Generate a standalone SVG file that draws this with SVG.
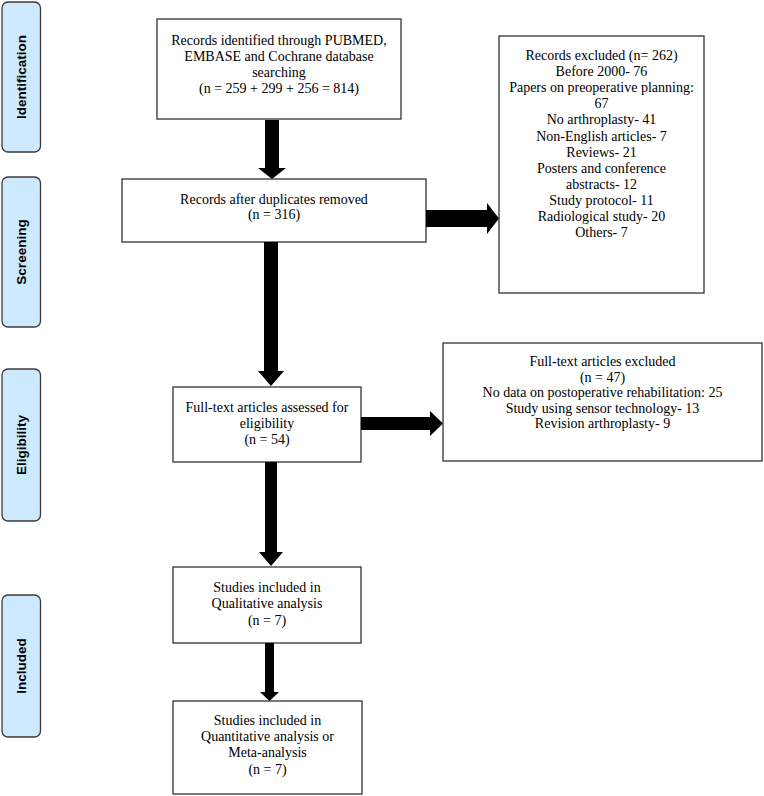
<svg xmlns="http://www.w3.org/2000/svg" width="764" height="796" viewBox="0 0 764 796">
<style>
.lab rect{fill:#cde9fd;stroke:#3a3a3a;stroke-width:1.3}
.lab text{font-family:"Liberation Sans",Arial,sans-serif;font-weight:bold;font-size:13.5px;fill:#000;text-anchor:middle}
.box rect{fill:#fff;stroke:#333;stroke-width:1.3}
.box text{font-family:"Liberation Serif","Times New Roman",serif;font-size:14px;fill:#000;text-anchor:middle}
#connectors polygon{fill:#000}
</style>
<rect width="764" height="796" fill="#fff"/>
<g id="lab-identification" class="lab"><rect x="2" y="2" width="38.5" height="150" rx="6"/><text transform="translate(26,77) rotate(-90)">Identification</text></g>
<g id="lab-screening" class="lab"><rect x="2" y="177" width="38.5" height="150" rx="6"/><text transform="translate(26,252) rotate(-90)">Screening</text></g>
<g id="lab-eligibility" class="lab"><rect x="2" y="369" width="38.5" height="152" rx="6"/><text transform="translate(26,445) rotate(-90)">Eligibility</text></g>
<g id="lab-included" class="lab"><rect x="2" y="595" width="38.5" height="142" rx="6"/><text transform="translate(26,666) rotate(-90)">Included</text></g>

<g id="n-identified" class="box"><rect x="157" y="19" width="244" height="100"/>
<text x="279" y="45">Records identified through PUBMED,</text>
<text x="279" y="61">EMBASE and Cochrane database</text>
<text x="279" y="77">searching</text>
<text x="279" y="93">(n = 259 + 299 + 256 = 814)</text></g>

<g id="n-duplicates" class="box"><rect x="122" y="179" width="304" height="63"/>
<text x="274" y="204">Records after duplicates removed</text>
<text x="274" y="219">(n = 316)</text></g>

<g id="n-excluded" class="box"><rect x="499" y="36" width="205" height="257"/>
<text x="601.5" y="60">Records excluded (n= 262)</text>
<text x="601.5" y="76.1">Before 2000- 76</text>
<text x="601.5" y="92.2">Papers on preoperative planning:</text>
<text x="601.5" y="108.3">67</text>
<text x="601.5" y="124.4">No arthroplasty- 41</text>
<text x="601.5" y="140.5">Non-English articles- 7</text>
<text x="601.5" y="156.6">Reviews- 21</text>
<text x="601.5" y="172.7">Posters and conference</text>
<text x="601.5" y="188.8">abstracts- 12</text>
<text x="601.5" y="204.9">Study protocol- 11</text>
<text x="601.5" y="221">Radiological study- 20</text>
<text x="601.5" y="237.1">Others- 7</text></g>

<g id="n-fulltext" class="box"><rect x="173" y="387" width="188" height="75"/>
<text x="267" y="412">Full-text articles assessed for</text>
<text x="267" y="428">eligibility</text>
<text x="267" y="444">(n = 54)</text></g>

<g id="n-ft-excluded" class="box"><rect x="443" y="343" width="319" height="118"/>
<text x="602.5" y="366">Full-text articles excluded</text>
<text x="602.5" y="381.5">(n = 47)</text>
<text x="602.5" y="397">No data on postoperative rehabilitation: 25</text>
<text x="602.5" y="412.5">Study using sensor technology- 13</text>
<text x="602.5" y="428">Revision arthroplasty- 9</text></g>

<g id="n-qualitative" class="box"><rect x="173" y="567" width="188" height="76"/>
<text x="267" y="592">Studies included in</text>
<text x="267" y="608">Qualitative analysis</text>
<text x="267" y="625">(n = 7)</text></g>

<g id="n-quantitative" class="box"><rect x="173" y="701" width="189" height="93"/>
<text x="267.5" y="725">Studies included in</text>
<text x="267.5" y="741">Quantitative analysis or</text>
<text x="267.5" y="757">Meta-analysis</text>
<text x="267.5" y="774">(n = 7)</text></g>

<g id="connectors">
<polygon points="265,120 279,120 279,168 286,168 272,179 258,168 265,168"/>
<polygon points="264,242 278,242 278,371 284,371 271,386 258,371 264,371"/>
<polygon points="265,462 277,462 277,552 283,552 271,566 259,552 265,552"/>
<polygon points="265,643 274,643 274,692 279,692 269.5,701 260,692 265,692"/>
<polygon points="426,210 487,210 487,203 499,218.5 487,234 487,227 426,227"/>
<polygon points="361,417 430,417 430,411 443,423.5 430,436 430,430 361,430"/>
</g>
</svg>
